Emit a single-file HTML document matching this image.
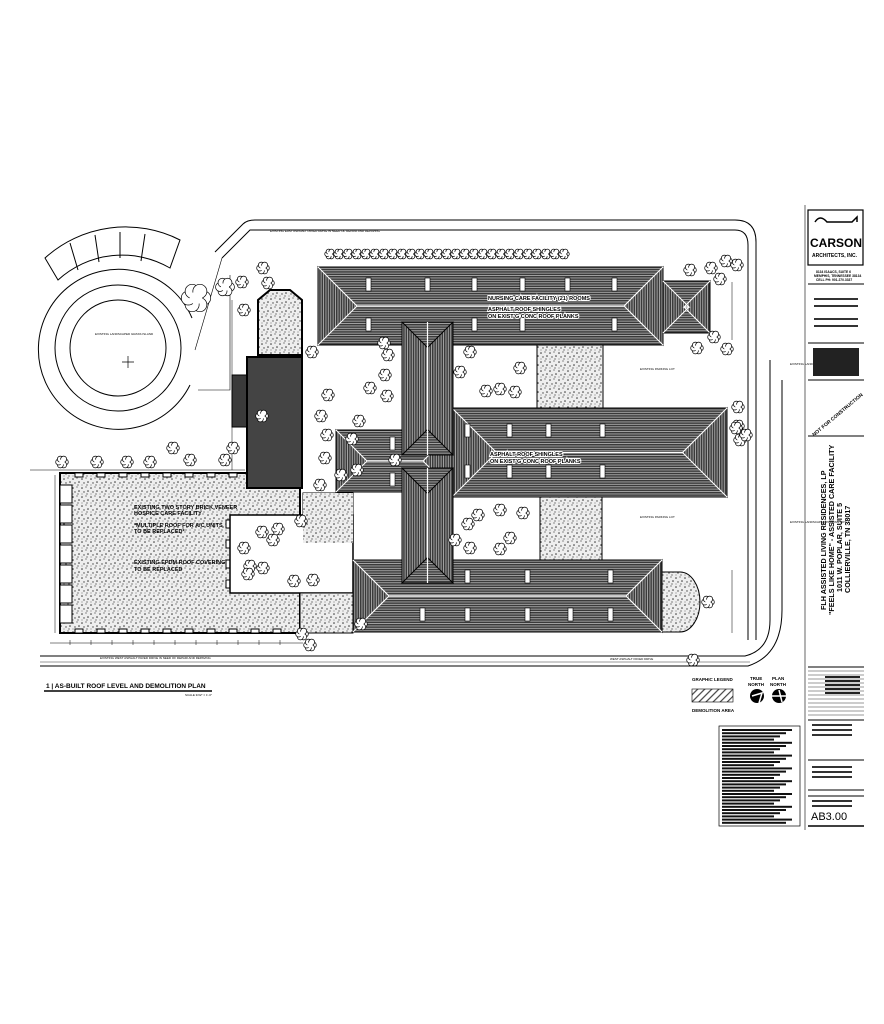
<!DOCTYPE html>
<html><head><meta charset="utf-8"><style>
html,body{margin:0;padding:0;background:#fff;}
svg{display:block;font-family:"Liberation Sans",sans-serif;}
</style></head><body>
<svg id="s" width="884" height="1024" viewBox="0 0 884 1024" xmlns="http://www.w3.org/2000/svg">
<defs>
<pattern id="rh" width="4" height="2.4" patternUnits="userSpaceOnUse"><rect width="4" height="2.4" fill="#aaa"/><rect width="4" height="1.5" fill="#3a3a3a"/></pattern>
<pattern id="rv" width="2.4" height="4" patternUnits="userSpaceOnUse"><rect width="2.4" height="4" fill="#aaa"/><rect width="1.5" height="4" fill="#3a3a3a"/></pattern>
<pattern id="st" width="9" height="9" patternUnits="userSpaceOnUse"><rect width="9" height="9" fill="#eee"/><circle cx="1" cy="2" r=".8" fill="#333"/><circle cx="5" cy="1" r=".6" fill="#444"/><circle cx="7" cy="5" r=".8" fill="#333"/><circle cx="3" cy="6" r=".7" fill="#444"/><circle cx="6" cy="8" r=".6" fill="#333"/><circle cx="1" cy="8" r=".5" fill="#555"/></pattern>
<pattern id="hat" width="5" height="5" patternUnits="userSpaceOnUse" patternTransform="rotate(45)"><rect width="5" height="5" fill="#fff"/><rect width="1.2" height="5" fill="#444"/></pattern>
</defs>
<g fill="none" stroke="#000" stroke-width="1">
<path d="M215,252 L243,224 Q247,220 255,220 L735,220 Q756,220 756,242 L756,640"/>
<path d="M222,258 L250,230 L735,230 Q748,230 748,245 L748,640"/>
<path d="M40,656 L745,656 Q770,650 770,620 L770,360"/>
<path d="M40,666 L748,666 Q782,655 782,610 L782,380"/>
<path d="M40,662 L750,662" stroke-width=".4"/>
<circle cx="118" cy="348" r="48"/>
<circle cx="118" cy="348" r="63"/>
<path d="M190,385 A80,80 0 1 1 192,318"/>
<path d="M45,258 A120,120 0 0 1 180,240 L170,268 A95,95 0 0 0 58,280 Z"/>
<path d="M70,243 L78,270 M95,235 L99,262 M120,232 L120,258 M145,234 L141,261"/>
<path d="M128,356 v12 M122,362 h12" stroke-width=".7"/>
<path d="M195,350 L222,258 M198,390 L230,390 L230,275" stroke-width=".6"/>
<path d="M30,470 L245,470 M232,300 L232,470" stroke-width=".5"/>
</g>
<!-- left hospice building -->
<path d="M60,473 L300,473 L300,633 L60,633 Z" fill="url(#st)" stroke="#000" stroke-width="2"/>
<g id="notch"></g>
<rect x="230" y="515" width="123" height="78" fill="#fff" stroke="#000" stroke-width="1.5"/>
<rect x="303" y="493" width="50" height="22" fill="url(#st)" stroke="#000"/>
<rect x="300" y="593" width="53" height="40" fill="url(#st)" stroke="#000"/>
<rect x="303" y="493" width="50" height="50" fill="url(#st)"/>
<!-- dark building -->
<rect x="232" y="375" width="16" height="52" fill="#3a3a3a" stroke="#000"/>
<rect x="247" y="357" width="55" height="131" fill="#444" stroke="#000" stroke-width="2"/>
<path d="M258,355 L258,300 L270,290 L290,290 L302,300 L302,355 Z" fill="url(#st)" stroke="#000" stroke-width="2"/>
<rect x="537" y="340" width="66" height="68" fill="url(#st)" stroke="#000"/>
<rect x="540" y="497" width="62" height="65" fill="url(#st)" stroke="#000"/>
<path d="M662,572 L680,572 A20,30 0 0 1 680,632 L662,632 Z" fill="url(#st)" stroke="#000"/>
<g id="roofs"></g>
<g id="trees"></g>
<g font-size="5.5" font-weight="bold" fill="#000">
<text x="488" y="300" style="paint-order:stroke" stroke="#fff" stroke-width="2">NURSING CARE FACILITY (21) ROOMS</text>
<text x="488" y="311" style="paint-order:stroke" stroke="#fff" stroke-width="2">ASPHALT ROOF SHINGLES</text>
<text x="488" y="318" style="paint-order:stroke" stroke="#fff" stroke-width="2">ON EXIST'G CONC ROOF PLANKS</text>
<text x="490" y="456" style="paint-order:stroke" stroke="#fff" stroke-width="2">ASPHALT ROOF SHINGLES</text>
<text x="490" y="463" style="paint-order:stroke" stroke="#fff" stroke-width="2">ON EXIST'G CONC ROOF PLANKS</text>
<text x="134" y="509">EXISTING TWO STORY BRICK VENEER</text>
<text x="134" y="515">HOSPICE CARE FACILITY</text>
<text x="134" y="527">*MULTIPLE ROOF FOR A/C UNITS</text>
<text x="134" y="533">TO BE REPLACED*</text>
<text x="134" y="564">EXISTING EPDM ROOF COVERING</text>
<text x="134" y="571">TO BE REPLACED</text>
</g>
<g font-size="3" fill="#000">
<text x="270" y="232">EXISTING EAST ASPHALT PAVED DRIVE IN NEED OF REPAIR AND REPAVING</text>
<text x="100" y="659">EXISTING WEST ASPHALT PAVED DRIVE IN NEED OF REPAIR AND REPAVING</text>
<text x="610" y="660">WEST ASPHALT PAVED DRIVE</text>
<text x="95" y="335">EXISTING LANDSCAPED GRASS ISLAND</text>
<text x="790" y="365">EXISTING LANDSCAPED PARKING LOT</text>
<text x="790" y="523">EXISTING LANDSCAPED PARKING LOT</text>
<text x="640" y="370">EXISTING PARKING LOT</text>
<text x="640" y="518">EXISTING PARKING LOT</text>
</g>
<g>
<text x="46" y="688" font-size="6.5" font-weight="bold">1 | AS-BUILT ROOF LEVEL AND DEMOLITION PLAN</text>
<line x1="44" y1="691" x2="212" y2="691" stroke="#000" stroke-width="1.5"/>
<text x="185" y="696" font-size="3">SCALE 3/32" = 1'-0"</text>
</g>
<text x="692" y="681" font-size="4.5" font-weight="bold">GRAPHIC LEGEND</text>
<rect x="692" y="689" width="41" height="13" fill="url(#hat)" stroke="#000" stroke-width=".6"/>
<text x="692" y="712" font-size="4.5" font-weight="bold">DEMOLITION AREA</text>
<text x="750" y="680" font-size="4.5" font-weight="bold">TRUE</text>
<text x="748" y="686" font-size="4.5" font-weight="bold">NORTH</text>
<text x="772" y="680" font-size="4.5" font-weight="bold">PLAN</text>
<text x="770" y="686" font-size="4.5" font-weight="bold">NORTH</text>
<circle cx="757" cy="696" r="7" fill="#000"/><path d="M752,696 L762,693 L759,703" stroke="#fff" fill="none" stroke-width="1.5"/>
<circle cx="779" cy="696" r="7" fill="#000"/><path d="M772,696 L786,696 M779,690 L782,702" stroke="#fff" fill="none" stroke-width="1.5"/>
<rect x="719" y="726" width="81" height="100" fill="#fff" stroke="#000" stroke-width=".7"/>
<g id="notes"></g>
<g stroke="#000" fill="none">
<line x1="805" y1="205" x2="805" y2="830" stroke-width=".6"/>
<rect x="808" y="210" width="55" height="55" stroke-width="1.2"/>
<path d="M815,222 q5,-8 12,0 l25,0 l5,-5 v5" stroke-width="1.5"/>
<line x1="808" y1="284" x2="864" y2="284"/>
<line x1="808" y1="343" x2="864" y2="343"/>
<line x1="808" y1="380" x2="864" y2="380"/>
<line x1="808" y1="436" x2="864" y2="436"/>
<line x1="808" y1="667" x2="864" y2="667"/>
<line x1="808" y1="720" x2="864" y2="720"/>
<line x1="808" y1="760" x2="864" y2="760"/>
<line x1="808" y1="790" x2="864" y2="790"/>
<line x1="808" y1="796" x2="864" y2="796"/>
<line x1="808" y1="826" x2="864" y2="826" stroke-width="1.5"/>
</g>
<text x="810" y="247" font-size="12" font-weight="bold">CARSON</text>
<text x="812" y="257" font-size="5" font-weight="bold">ARCHITECTS, INC.</text>
<g font-size="3.3" font-weight="bold"><text x="816" y="273">8134 ISAACS, SUITE 6</text><text x="814" y="277">MEMPHIS, TENNESSEE 38134</text><text x="816" y="281">CELL PH: 901.270.3337</text></g>
<rect x="813" y="348" width="46" height="28" fill="#222"/>
<text x="808" y="430" font-size="5" font-weight="bold" transform="rotate(-40 820 425)">NOT FOR CONSTRUCTION</text>
<g font-size="7.2" font-weight="bold" transform="rotate(-90 840 545)">
<text x="775" y="531">FLH ASSISTED LIVING RESIDENCES, LP</text>
<text x="770" y="539">"FEELS LIKE HOME" - ASSISTED CARE FACILITY</text>
<text x="793" y="547">1011 W. POPLAR, SUITE 5</text>
<text x="792" y="555">COLLIERVILLE, TN 38017</text>
</g>
<g id="tb"></g>
<text x="811" y="820" font-size="11">AB3.00</text>
<script>
var NS="http://www.w3.org/2000/svg";
function el(p,t,a){var e=document.createElementNS(NS,t);for(var k in a)e.setAttribute(k,a[k]);document.getElementById(p).appendChild(e);return e;}
function hipH(x,y,w,h){var m=h/2;
el("roofs","rect",{x:x,y:y,width:w,height:h,fill:"url(#rh)",stroke:"#000"});
el("roofs","polygon",{points:[x,y,x+m,y+m,x,y+h].join(","),fill:"url(#rv)",stroke:"#000"});
el("roofs","polygon",{points:[x+w,y,x+w-m,y+m,x+w,y+h].join(","),fill:"url(#rv)",stroke:"#000"});
el("roofs","path",{d:"M"+x+","+y+"L"+(x+m)+","+(y+m)+"L"+(x+w-m)+","+(y+m)+"L"+(x+w)+","+y+"M"+x+","+(y+h)+"L"+(x+m)+","+(y+m)+"M"+(x+w-m)+","+(y+m)+"L"+(x+w)+","+(y+h),stroke:"#fff","stroke-width":1.2,fill:"none"});}
function hipV(x,y,w,h){var m=w/2;
el("roofs","rect",{x:x,y:y,width:w,height:h,fill:"url(#rv)",stroke:"#000"});
el("roofs","polygon",{points:[x,y,x+m,y+m,x+w,y].join(","),fill:"url(#rh)",stroke:"#000"});
el("roofs","polygon",{points:[x,y+h,x+m,y+h-m,x+w,y+h].join(","),fill:"url(#rh)",stroke:"#000"});
el("roofs","path",{d:"M"+(x+m)+","+y+"L"+(x+m)+","+(y+h),stroke:"#fff","stroke-width":1.2,fill:"none"});}
hipH(318,267,345,78);
hipH(663,281,47,52);
hipH(336,430,118,62);
hipH(452,408,275,89);
hipH(353,560,309,72);
hipV(402,322,51,133);
hipV(402,468,51,115);
function win(x,y){el("roofs","rect",{x:x,y:y,width:5,height:13,fill:"#fff",stroke:"#000","stroke-width":.6});}
[366,425,472,520,565,612].forEach(function(x){win(x,278);});
[366,472,520,612].forEach(function(x){win(x,318);});
[465,507,546,600].forEach(function(x){win(x,424);win(x,465);});
[390].forEach(function(x){win(x,437);win(x,473);});
[465,525,608].forEach(function(x){win(x,570);});
[420,465,525,568,608].forEach(function(x){win(x,608);});
// hospice notches
for(var x=75;x<290;x+=22){el("notch","rect",{x:x,y:473,width:8,height:4,fill:"#fff",stroke:"#000","stroke-width":1});el("notch","rect",{x:x,y:629,width:8,height:4,fill:"#fff",stroke:"#000","stroke-width":1});}
for(var y=485;y<625;y+=20){el("notch","rect",{x:60,y:y,width:12,height:18,fill:"#fff",stroke:"#000","stroke-width":1});}
for(var y=520;y<590;y+=20){el("notch","rect",{x:226,y:y,width:4,height:8,fill:"#fff",stroke:"#000","stroke-width":1});}
function tree(x,y,r){r=r||6;var g=el("trees","g",{});
for(var i=0;i<6;i++){var a=i*Math.PI/3;var c=document.createElementNS(NS,"circle");c.setAttribute("cx",x+Math.cos(a)*r*.55);c.setAttribute("cy",y+Math.sin(a)*r*.55);c.setAttribute("r",r*.5);c.setAttribute("fill","#fff");c.setAttribute("stroke","#000");c.setAttribute("stroke-width",".7");g.appendChild(c);}
var c2=document.createElementNS(NS,"circle");c2.setAttribute("cx",x);c2.setAttribute("cy",y);c2.setAttribute("r",r*.45);c2.setAttribute("fill","#fff");g.appendChild(c2);}
for(var x=330;x<565;x+=9)tree(x,254+(x%3),5);
[[225,287,9],[196,298,14],[242,282],[263,268],[268,283],[244,310],[312,352],[328,395],[321,416],[327,435],[325,458],[352,439],[359,421],[320,485],[357,470],[395,460],[341,475],[370,388],[387,396],[385,375],[388,355],[384,343],[470,352],[460,372],[486,391],[500,389],[515,392],[520,368],[455,540],[468,524],[478,515],[500,510],[523,513],[510,538],[500,549],[470,548],[313,580],[361,624],[310,645],[302,634],[250,566],[248,574],[263,568],[262,532],[273,540],[244,548],[301,521],[278,529],[294,581],[190,460],[225,460],[150,462],[62,462],[97,462],[127,462],[173,448],[262,416],[233,448],[690,270],[711,268],[720,279],[726,261],[737,265],[697,348],[714,337],[727,349],[738,407],[738,426],[740,440],[736,428],[746,435],[708,602],[693,660]].forEach(function(t){tree(t[0],t[1],t[2]||6);});
for(var i=0;i<30;i++){var w=70-(i%4)*6;el("notes","rect",{x:722,y:729+i*3.2,width:w,height:2,fill:"#111"});}
for(var i=0;i<12;i++){el("tb","line",{x1:808,y1:671+i*4,x2:864,y2:671+i*4,stroke:"#000","stroke-width":.4});}
for(var i=0;i<5;i++){el("tb","rect",{x:825,y:676+i*4,width:35,height:2,fill:"#222"});}
[724,729,734,766,771,776,800,805].forEach(function(y){el("tb","rect",{x:812,y:y,width:40,height:2,fill:"#333"});});
[298,305,318,325].forEach(function(y){el("tb","rect",{x:814,y:y,width:44,height:2,fill:"#333"});});
for(var i=0;i<11;i++){el("tb","line",{x1:70+i*21,y1:640,x2:70+i*21,y2:645,stroke:"#000","stroke-width":.5});}
el("tb","line",{x1:50,y1:643,x2:303,y2:643,stroke:"#000","stroke-width":.5});
el("tb","line",{x1:55,y1:475,x2:55,y2:633,stroke:"#000","stroke-width":.5});
el("tb","line",{x1:732,y1:282,x2:732,y2:340,stroke:"#000","stroke-width":.5});
el("tb","line",{x1:732,y1:570,x2:732,y2:633,stroke:"#000","stroke-width":.5});
</script>
</svg>
</body></html>
